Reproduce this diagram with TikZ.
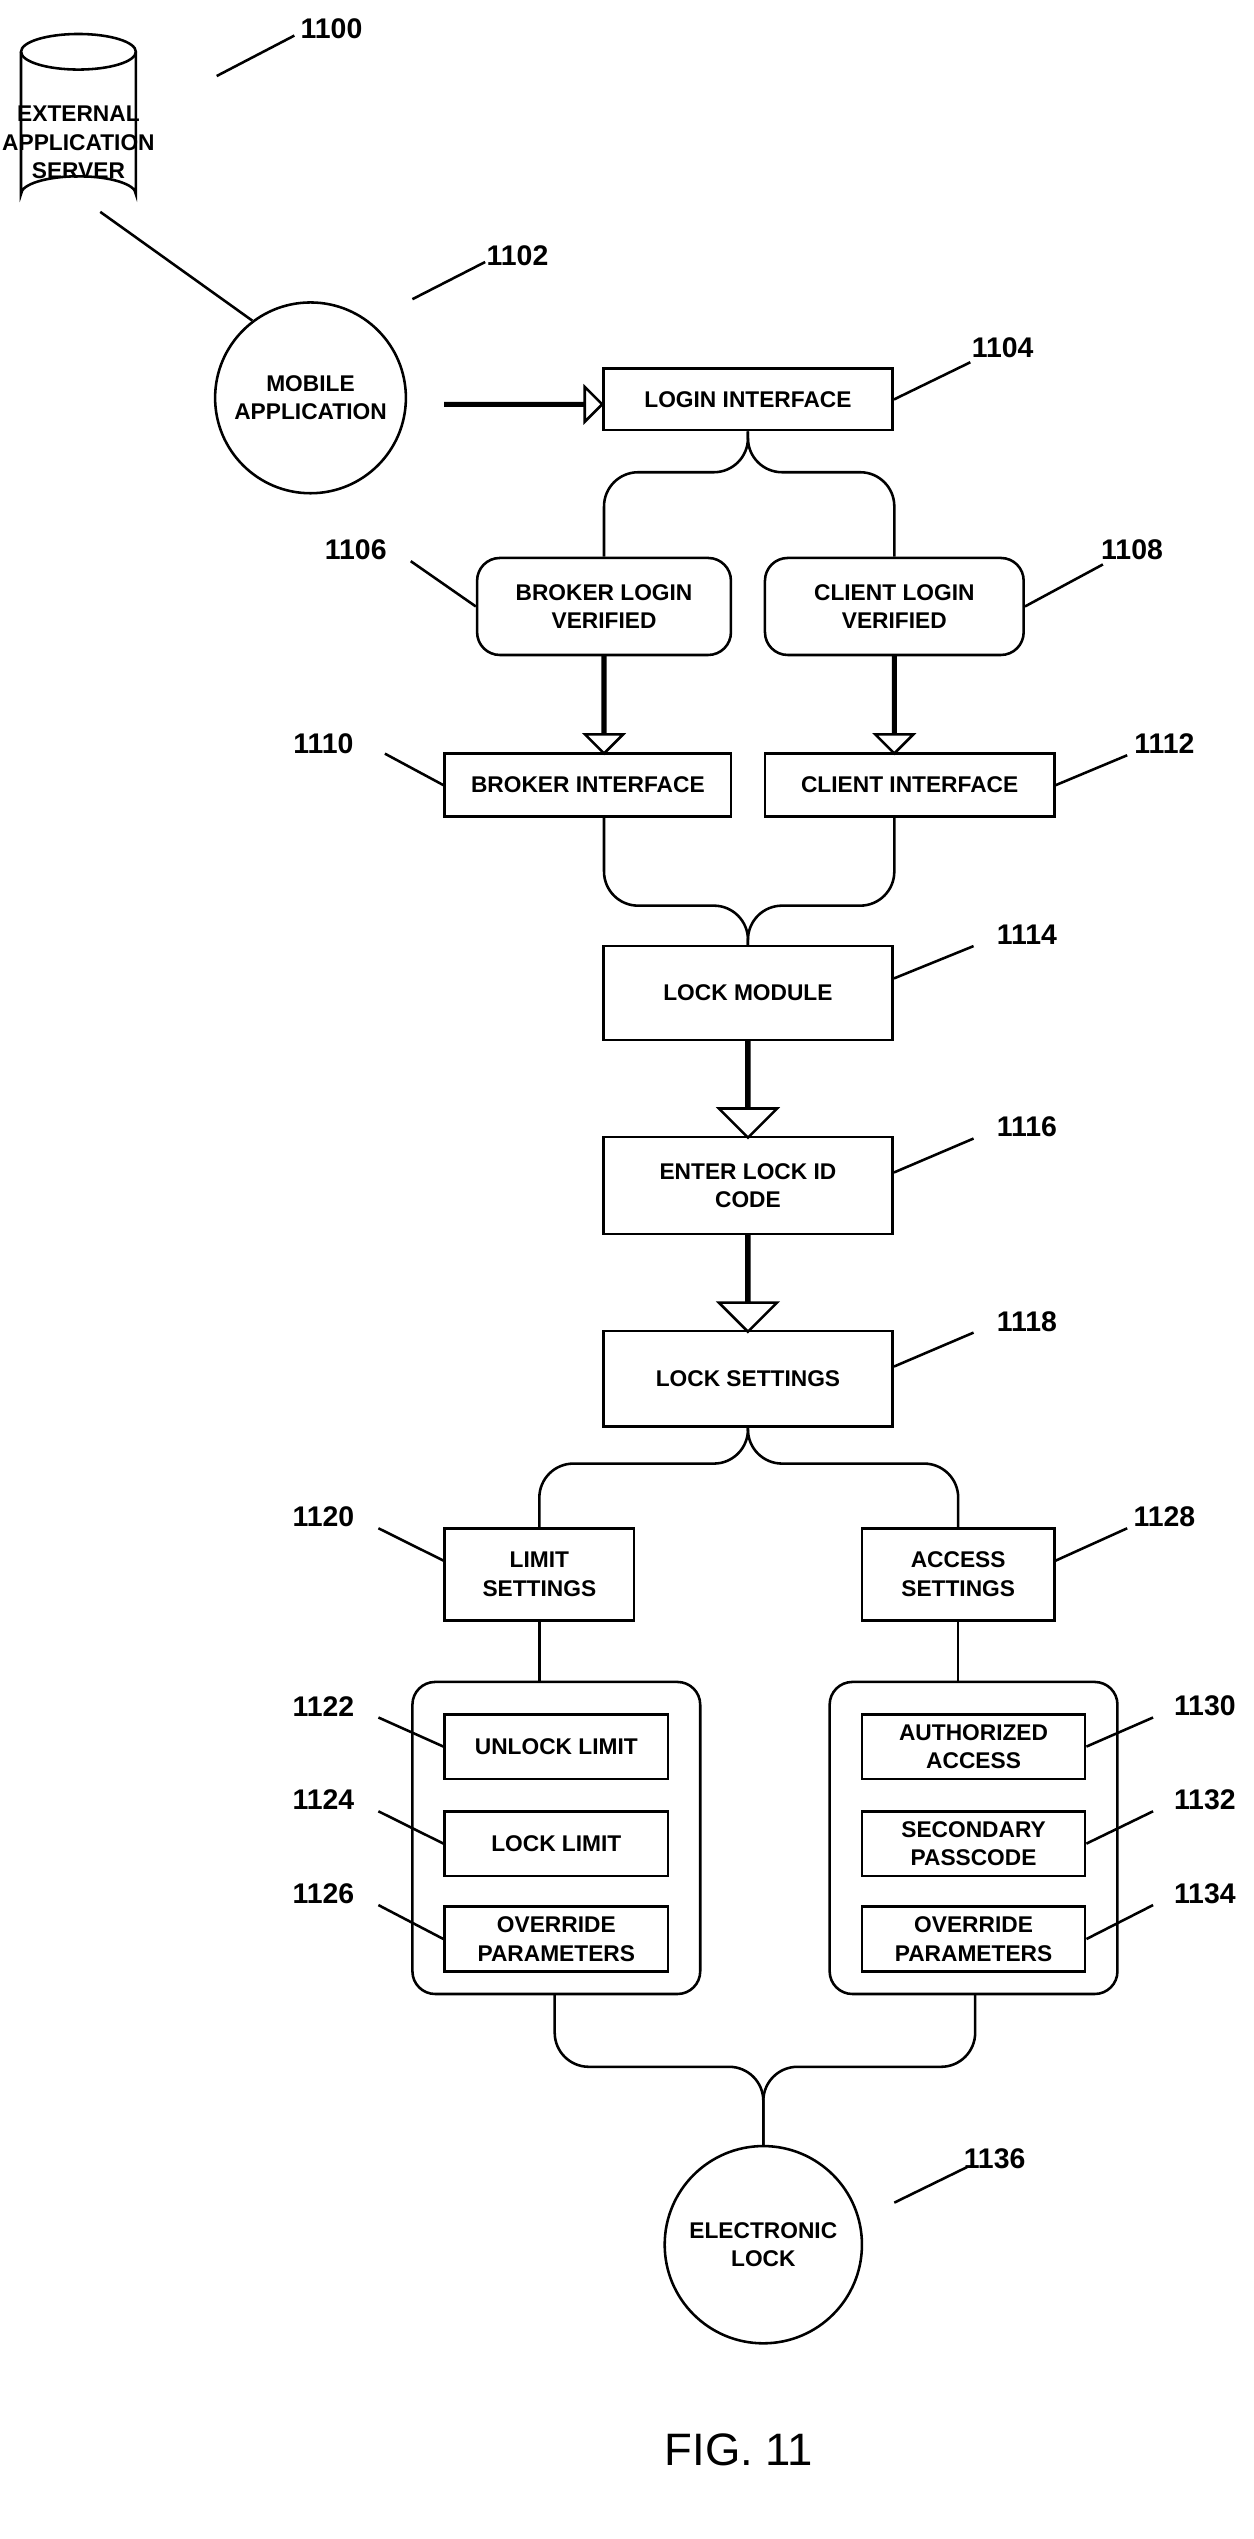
\documentclass[tikz,border=0pt]{standalone}
\usepackage{fontspec}
\setmainfont{Liberation Sans}
\usetikzlibrary{shapes.arrows}
\begin{document}
\begin{tikzpicture}[x=0.02cm,y=-0.02cm,line width=0.9pt,
  box/.style={draw,align=center,inner sep=0pt,font=\bfseries\fontsize{8}{10}\selectfont},
  rbox/.style={box,rounded corners=8pt},
  lbl/.style={font=\bfseries\fontsize{10}{12}\selectfont},
  ha/.style={draw,fill=white,single arrow,inner sep=0pt,line width=0.9pt},
  br/.style={rounded corners=12pt}]
\useasboundingbox (0,0) rectangle (775,1570);
% cylinder
\draw (13,32) -- (13,120) arc[start angle=180,end angle=360,x radius=35.5,y radius=11] -- (84,32);
\draw (48.5,32) ellipse[x radius=35.5,y radius=11];
\node[font=\bfseries\fontsize{8}{10}\selectfont,align=center] (srv) at (48.5,88) {EXTERNAL\\APPLICATION\\SERVER};
\coordinate (srvb) at (62,131);
\node[lbl] (l1100) at (205,18) {1100};
\draw (134,47) -- (182,22);
% mobile app
\node[draw,circle,minimum size=2.36cm,align=center,font=\bfseries\fontsize{8}{10}\selectfont] (mob) at (192,246) {MOBILE\\APPLICATION};
\draw (srvb) -- (mob.127);
\node[lbl] (l1102) at (320,158) {1102};
\draw (255,185) -- (300,162);
\node[ha,minimum height=1.94cm,minimum width=0.32cm,single arrow head extend=0.2cm] (a1) at (323.5,250) {};
\node[box,minimum width=3.58cm,minimum height=0.76cm] (login) at (462.5,247) {LOGIN INTERFACE};
\node[lbl] (l1104) at (620,215) {1104};
\draw (login.east) -- (600,224);
% login verified
\node[rbox,minimum width=3.14cm,minimum height=1.2cm] (blv) at (373.5,375) {BROKER LOGIN\\VERIFIED};
\node[rbox,minimum width=3.2cm,minimum height=1.2cm] (clv) at (553,375) {CLIENT LOGIN\\VERIFIED};
\draw[br] (login.south) -- (462.5,292) -- (blv.north |- 0,292) -- (blv.north);
\draw[br] (login.south) -- (462.5,292) -- (clv.north |- 0,292) -- (clv.north);
\node[lbl] (l1106) at (220,340) {1106};
\draw (254,347) -- (blv.west);
\node[lbl] (l1108) at (700,340) {1108};
\draw (clv.east) -- (682,349);
% interfaces
\node[box,minimum width=3.54cm,minimum height=0.78cm] (bi) at (363.5,485.5) {BROKER INTERFACE};
\node[box,minimum width=3.58cm,minimum height=0.78cm] (ci) at (562.5,485.5) {CLIENT INTERFACE};
\node[ha,rotate=-90,minimum height=1.2cm,minimum width=0.36cm,single arrow head extend=0.22cm] (a2) at (373.5,435.5) {};
\node[ha,rotate=-90,minimum height=1.2cm,minimum width=0.36cm,single arrow head extend=0.22cm] (a3) at (553,435.5) {};
\node[lbl] (l1110) at (200,460) {1110};
\draw (238,466) -- (bi.west);
\node[lbl] (l1112) at (720,460) {1112};
\draw (ci.east) -- (697,467);
% lock module
\node[box,minimum width=3.58cm,minimum height=1.16cm] (lm) at (462.5,614) {LOCK MODULE};
\draw[br] (373.5,505) -- (373.5,560) -- (462.5,560) -- (lm.north);
\draw[br] (553,505) -- (553,560) -- (462.5,560) -- (lm.north);
\node[lbl] (l1114) at (635,578) {1114};
\draw (lm.east |- 0,605) -- (602,585);
\node[ha,rotate=-90,minimum height=1.2cm,minimum width=0.72cm,single arrow head extend=0.3cm] (a4) at (462.5,673) {};
\node[box,minimum width=3.58cm,minimum height=1.2cm] (elid) at (462.5,733) {ENTER LOCK ID\\CODE};
\node[lbl] (l1116) at (635,697) {1116};
\draw (elid.east |- 0,725) -- (602,704);
\node[ha,rotate=-90,minimum height=1.2cm,minimum width=0.72cm,single arrow head extend=0.3cm] (a5) at (462.5,793) {};
\node[box,minimum width=3.58cm,minimum height=1.18cm] (ls) at (462.5,852.5) {LOCK SETTINGS};
\node[lbl] (l1118) at (635,817) {1118};
\draw (ls.east |- 0,845) -- (602,824);
% limit/access
\node[box,minimum width=2.34cm,minimum height=1.14cm] (lim) at (333.5,973.5) {LIMIT\\SETTINGS};
\node[box,minimum width=2.38cm,minimum height=1.14cm] (acc) at (592.5,973.5) {ACCESS\\SETTINGS};
\draw[br] (ls.south) -- (462.5,905) -- (333.5,905) -- (lim.north);
\draw[br] (ls.south) -- (462.5,905) -- (592.5,905) -- (acc.north);
\node[lbl] (l1120) at (200,938) {1120};
\draw (234,945) -- (lim.west |- 0,965);
\node[lbl] (l1128) at (720,938) {1128};
\draw (acc.east |- 0,965) -- (697,945);
% groups
\node[draw,rounded corners=8pt,minimum width=3.56cm,minimum height=3.86cm] (gl) at (344,1136.5) {};
\node[draw,rounded corners=8pt,minimum width=3.56cm,minimum height=3.86cm] (gr) at (602,1136.5) {};
\draw (lim.south) -- (lim.south |- gl.north);
\draw (acc.south) -- (acc.south |- gr.north);
\tikzset{ib/.style={box,minimum width=2.76cm,minimum height=0.8cm}}
\node[ib] (ul) at (344,1080) {UNLOCK LIMIT};
\node[ib] (ll) at (344,1140) {LOCK LIMIT};
\node[ib] (op1) at (344,1199) {OVERRIDE\\PARAMETERS};
\node[ib] (aa) at (602,1080) {AUTHORIZED\\ACCESS};
\node[ib] (sp) at (602,1140) {SECONDARY\\PASSCODE};
\node[ib] (op2) at (602,1199) {OVERRIDE\\PARAMETERS};
\node[lbl] (l1122) at (200,1055) {1122};
\draw (234,1062) -- (ul.west);
\node[lbl] (l1124) at (200,1113) {1124};
\draw (234,1120) -- (ll.west);
\node[lbl] (l1126) at (200,1171) {1126};
\draw (234,1178) -- (op1.west);
\node[lbl] (l1130) at (745,1055) {1130};
\draw (aa.east) -- (713,1062);
\node[lbl] (l1132) at (745,1113) {1132};
\draw (sp.east) -- (713,1120);
\node[lbl] (l1134) at (745,1171) {1134};
\draw (op2.east) -- (713,1178);
% electronic lock
\node[draw,circle,minimum size=2.44cm,align=center,font=\bfseries\fontsize{8}{10}\selectfont] (el) at (472,1388) {ELECTRONIC\\LOCK};
\draw[br] (343,1233) -- (343,1278) -- (472,1278) -- (el.north);
\draw[br] (603,1233) -- (603,1278) -- (472,1278) -- (el.north);
\node[lbl] (l1136) at (615,1335) {1136};
\draw (553,1362) -- (598,1340);
\node[font=\fontsize{16}{18}\selectfont] (fig) at (457,1515) {FIG. 11};
\end{tikzpicture}
\end{document}
